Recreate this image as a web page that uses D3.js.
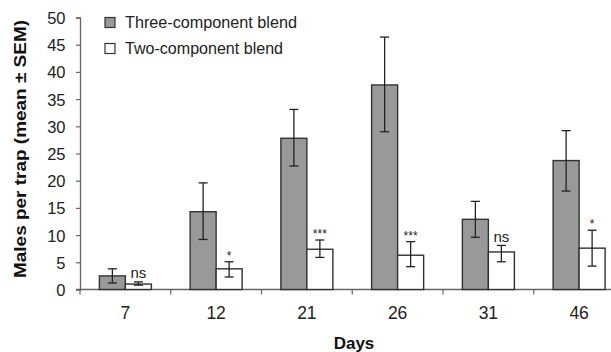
<!DOCTYPE html>
<html><head><meta charset="utf-8">
<script src="https://cdn.jsdelivr.net/npm/d3@7"></script>
<style>body{margin:0;background:#fff}svg{display:block;font-family:Arial,"Liberation Sans",sans-serif}</style>
</head><body><svg id="c" width="611" height="352"></svg>
<script>
const days = ["7","12","21","26","31","46"];
const seriesNames = ["Three-component blend","Two-component blend"];
const threeMean = [2.5,14.3,27.8,37.6,12.9,23.7];
const threeLo = [1.2,9.2,22.7,29.0,9.6,18.1];
const threeHi = [3.8,19.6,33.1,46.4,16.2,29.2];
const twoMean = [1.0,3.8,7.4,6.3,6.9,7.6];
const twoLo = [0.8,2.3,5.9,4.2,5.1,4.3];
const twoHi = [1.4,5.1,9.1,8.8,8.1,10.9];
const signif = ["ns","*","***","***","ns","*"];
const yTicks = [0,5,10,15,20,25,30,35,40,45,50];

const svg = d3.select("#c");
const x = d3.scaleBand().domain(days).range([80,624.5]).paddingInner(0).paddingOuter(0);
const y = d3.scaleLinear().domain([0,50]).range([289.5,17.5]);
const barW = 26;
const fills = ["#999999","#ffffff"];

// y axis
const ya = svg.append("g").attr("transform","translate(80,0)")
  .call(d3.axisLeft(y).tickValues(yTicks).tickSize(4).tickPadding(10.5));
ya.select(".domain").attr("stroke","#666").attr("stroke-width",1.3);
ya.selectAll(".tick line").attr("stroke","#666").attr("stroke-width",1.2);
ya.selectAll("text").attr("font-size",16.5).attr("fill","#222").attr("font-family","Arial, 'Liberation Sans', sans-serif").attr("dy","0.36em");

// x axis line & ticks at band boundaries
svg.append("line").attr("x1",76).attr("x2",611).attr("y1",y(0)).attr("y2",y(0)).attr("stroke","#666").attr("stroke-width",1.3);
svg.selectAll(".xt").data(days).enter().append("line")
  .attr("x1",d=>x(d)).attr("x2",d=>x(d)).attr("y1",y(0)).attr("y2",y(0)+5)
  .attr("stroke","#666").attr("stroke-width",1.2);
svg.selectAll(".xl").data(days).enter().append("text")
  .attr("x",d=>x(d)+x.bandwidth()/2).attr("y",318.5)
  .attr("text-anchor","middle").attr("font-size",17.5).attr("fill","#222").text(d=>d);

// bars
const series = [
  {mean:threeMean, lo:threeLo, hi:threeHi, off:-barW},
  {mean:twoMean, lo:twoLo, hi:twoHi, off:0}
];
series.forEach((s,si)=>{
  const g = svg.append("g");
  g.selectAll("rect").data(days).enter().append("rect")
    .attr("x",(d)=>x(d)+x.bandwidth()/2+s.off)
    .attr("y",(d,i)=>y(s.mean[i]))
    .attr("width",barW)
    .attr("height",(d,i)=>y(0)-y(s.mean[i]))
    .attr("fill",fills[si]).attr("stroke","#333").attr("stroke-width",1.4);
  const eb = g.selectAll(".eb").data(days).enter().append("g");
  const cx = d=>x(d)+x.bandwidth()/2+s.off+barW/2;
  eb.append("line").attr("x1",cx).attr("x2",cx)
    .attr("y1",(d,i)=>y(s.lo[i])).attr("y2",(d,i)=>y(s.hi[i]))
    .attr("stroke","#222").attr("stroke-width",1.3);
  [s.lo,s.hi].forEach(arr=>{
    eb.append("line").attr("x1",d=>cx(d)-4.5).attr("x2",d=>cx(d)+4.5)
      .attr("y1",(d,i)=>y(arr[i])).attr("y2",(d,i)=>y(arr[i]))
      .attr("stroke","#222").attr("stroke-width",1.3);
  });
});

// significance labels
svg.selectAll(".sig").data(days).enter().append("text")
  .attr("x",d=>x(d)+x.bandwidth()/2+barW/2)
  .attr("y",(d,i)=>y(twoHi[i]) - (signif[i]==="ns"?3.5:2))
  .attr("text-anchor","middle")
  .attr("font-size",(d,i)=>signif[i]==="ns"?15:12)
  .attr("fill","#222")
  .text((d,i)=>signif[i]);

// legend
const lg = svg.append("g");
const legLen = [172,158];
seriesNames.forEach((n,i)=>{
  const yy = 17.5 + i*26;
  lg.append("rect").attr("x",105).attr("y",yy).attr("width",10).attr("height",10)
    .attr("fill",fills[i]).attr("stroke","#333").attr("stroke-width",1.2);
  lg.append("text").attr("x",125).attr("y",yy+10).attr("font-size",16)
    .attr("textLength",legLen[i]).attr("lengthAdjust","spacingAndGlyphs")
    .attr("fill","#222").text(n);
});

// titles
svg.append("text").attr("transform","translate(26,149) rotate(-90)")
  .attr("text-anchor","middle").attr("font-size",16).attr("font-weight","bold").attr("fill","#111")
  .attr("textLength",258).attr("lengthAdjust","spacingAndGlyphs")
  .text("Males per trap (mean \u00B1 SEM)");
svg.append("text").attr("x",354).attr("y",349).attr("text-anchor","middle")
  .attr("font-size",17).attr("font-weight","bold").attr("fill","#111").text("Days");
</script></body></html>
